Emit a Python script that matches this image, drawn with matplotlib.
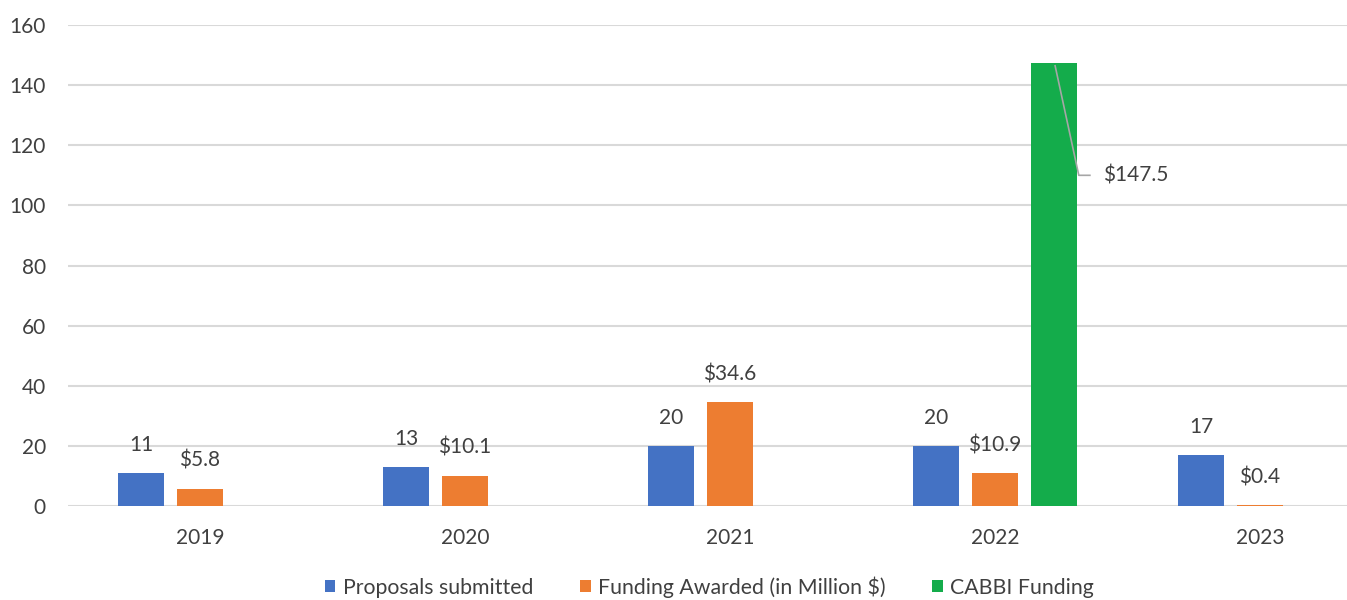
import matplotlib
matplotlib.use("Agg")
import matplotlib.pyplot as plt
from matplotlib.patches import Patch
import numpy as np

years = ["2019", "2020", "2021", "2022", "2023"]
proposals = [11, 13, 20, 20, 17]
funding = [5.8, 10.1, 34.6, 10.9, 0.4]
cabbi = [0, 0, 0, 147.5, 0]
proposal_labels = ["11", "13", "20", "20", "17"]
funding_labels = ["$5.8", "$10.1", "$34.6", "$10.9", "$0.4"]
cabbi_labels = ["", "", "", "$147.5", ""]
series_names = ["Proposals submitted", "Funding Awarded (in Million $)", "CABBI Funding"]
yticks = [0, 20, 40, 60, 80, 100, 120, 140, 160]

colors = ["#4472C4", "#ED7D31", "#14AC4B"]
text_color = "#404040"
grid_color = "#D9D9D9"

plt.rcParams['font.family'] = ['Lato', 'DejaVu Sans']

W, H = 1347, 600
fig = plt.figure(figsize=(W / 100, H / 100), dpi=100)
left_px, right_px, top_px, bottom_px = 68, 1347, 25, 506
ax = fig.add_axes([left_px / W, 1 - bottom_px / H, (right_px - left_px) / W, (bottom_px - top_px) / H])

x = np.arange(len(years))
width = 0.174
off = 0.222
fs = 15

series = [proposals, funding, cabbi]
labels = [proposal_labels, funding_labels, cabbi_labels]
for k, (vals, labs) in enumerate(zip(series, labels)):
    xs = x + (k - 1) * off
    v = np.array(vals, dtype=float)
    mask = v > 0
    ax.bar(xs[mask], v[mask], width=width, color=colors[k], zorder=3)
    if k < 2:
        for xi, vi, li in zip(xs, v, labs):
            if vi > 0 and li:
                ax.annotate(li, xy=(xi, vi), xytext=(0, 20), textcoords="offset points",
                            ha="center", va="center", fontsize=fs, color=text_color)

# CABBI label with leader line
for xi, vi, li in zip(x + off, cabbi, cabbi_labels):
    if vi > 0 and li:
        ly = vi - 37.5
        ax.plot([xi + 0.004, xi + 0.094, xi + 0.139], [vi - 0.8, ly, ly],
                color="#A6A6A6", lw=1.2, zorder=4, solid_capstyle="butt")
        ax.text(xi + 0.186, ly, li, ha="left", va="center", fontsize=fs, color=text_color)

ax.set_xlim(-0.498, 4.328)
ax.set_ylim(0, 160)
ax.set_yticks(yticks)
ax.set_yticklabels([str(t) for t in yticks])
ax.set_xticks(x)
ax.set_xticklabels(years)
ax.grid(axis="y", color=grid_color, lw=1.5, zorder=0)
ax.set_axisbelow(True)
for s in ax.spines.values():
    s.set_visible(False)
ax.tick_params(axis="both", length=0, labelsize=fs, labelcolor=text_color)
ax.tick_params(axis="x", pad=16)
ax.tick_params(axis="y", pad=16)

handles = [Patch(facecolor=c, edgecolor="none") for c in colors]
fig.legend(handles, series_names, loc="center", bbox_to_anchor=(709.5 / W, 1 - 587 / H),
           ncol=3, frameon=False, fontsize=15.3, handlelength=0.5, handleheight=0.5,
           handletextpad=0.35, columnspacing=2.2, labelcolor=text_color,
           borderpad=0.1)

fig.savefig("out.png", dpi=100)
